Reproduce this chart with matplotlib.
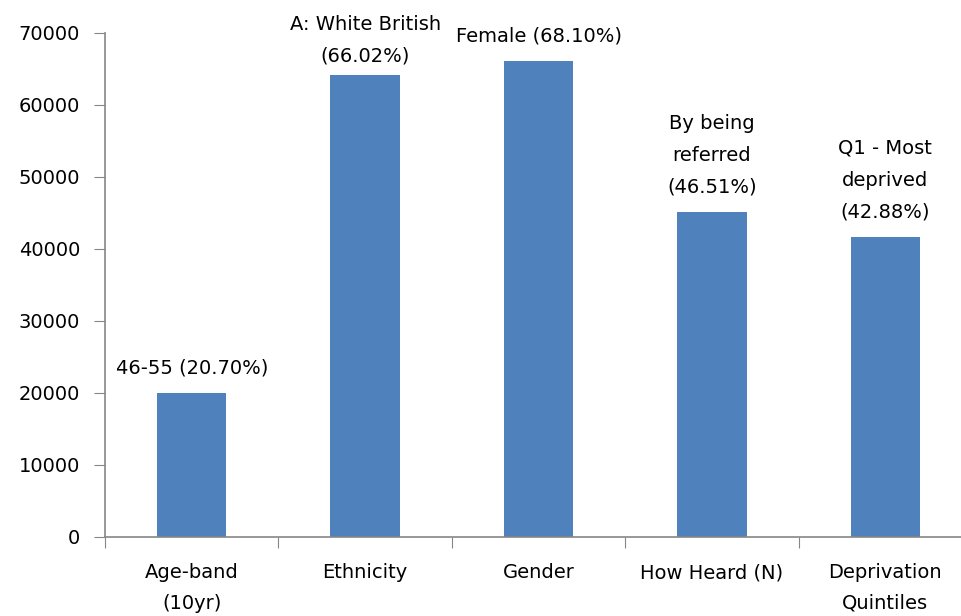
import matplotlib.pyplot as plt

# categories and bar values
categories = ['Age-band\n(10yr)', 'Ethnicity', 'Gender', 'How Heard (N)', 'Deprivation\nQuintiles']
values = [20000, 64100, 66100, 45100, 41600]
bar_labels = ['46-55 (20.70%)', 'A: White British\n(66.02%)', 'Female (68.10%)',
              'By being\nreferred\n(46.51%)', 'Q1 - Most\ndeprived\n(42.88%)']
y_ticks = [0, 10000, 20000, 30000, 40000, 50000, 60000, 70000]

plt.rcParams['font.family'] = ['DejaVu Sans']

fig = plt.figure(figsize=(9.62, 6.16), dpi=100)
# axes run slightly past the right edge like the original
ax = fig.add_axes([105 / 962, (616 - 537) / 616, 867 / 962, 504 / 616])

x = list(range(len(categories)))
ax.bar(x, values, width=0.4, color='#4F81BD', zorder=2)

for xi, v, lab in zip(x, values, bar_labels):
    # labels that would run off the top get pushed down a bit (like excel does)
    off = 16 if lab.count('\n') == 0 or v < 60000 else 10
    ax.annotate(lab, (xi, v), xytext=(0, off), textcoords='offset pixels',
                ha='center', va='bottom', fontsize=14, linespacing=1.85,
                annotation_clip=False)

ax.set_xlim(-0.5, len(categories) - 0.5)
ax.set_ylim(0, 70000)
ax.set_yticks(y_ticks)
ax.set_yticklabels([str(t) for t in y_ticks], fontsize=14)

# ticks between categories, labels at centers
ax.set_xticks([i - 0.5 for i in range(len(categories) + 1)])
ax.set_xticklabels([])
ax.set_xticks(x, minor=True)
ax.set_xticklabels(categories, minor=True, fontsize=14, linespacing=1.75)
ax.tick_params(axis='x', which='minor', length=0, pad=19)
ax.tick_params(axis='x', which='major', length=8, color='#868686', direction='out')
ax.tick_params(axis='y', length=8, color='#868686', direction='out', pad=10)

for side in ['top', 'right']:
    ax.spines[side].set_visible(False)
for side in ['left', 'bottom']:
    ax.spines[side].set_color('#868686')
    ax.spines[side].set_linewidth(1.2)

fig.savefig('out.png', dpi=100)
